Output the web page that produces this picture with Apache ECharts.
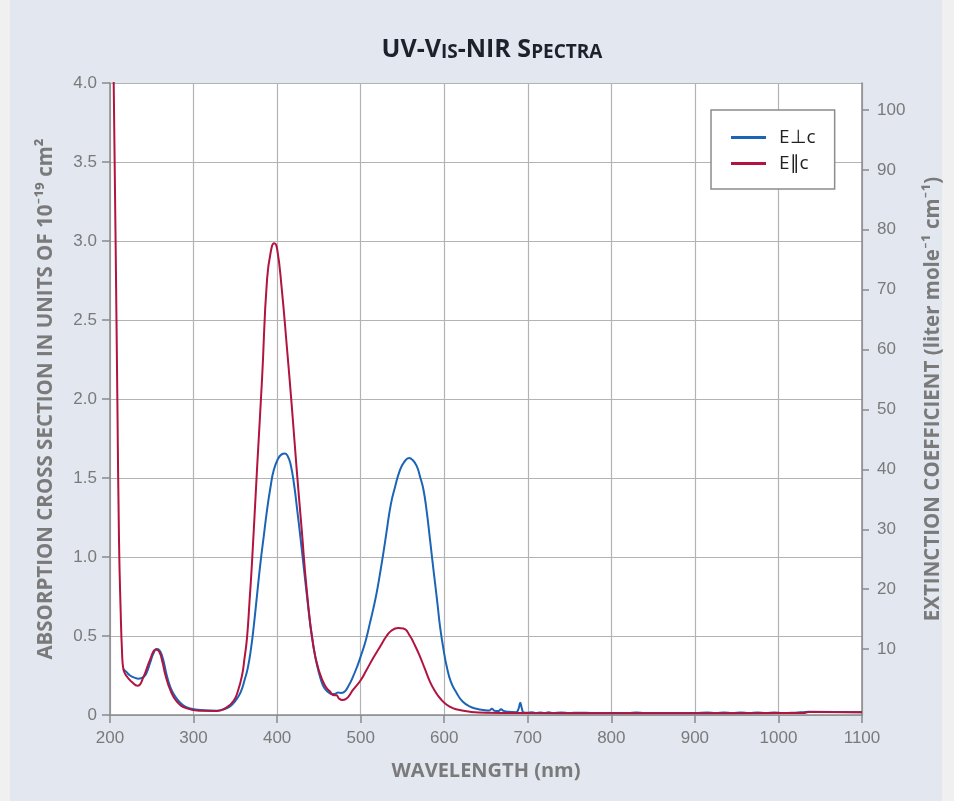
<!DOCTYPE html>
<html>
<head>
<meta charset="utf-8">
<script src="https://cdn.jsdelivr.net/npm/echarts@6/dist/echarts.min.js"></script>
<style>
  html, body { margin: 0; padding: 0; background: #f0f0f0; }
  #panel { position: absolute; left: 10px; top: 0; width: 932px; height: 801px; background: #e2e7f0; }
  #chart { position: absolute; left: 0; top: 0; width: 954px; height: 801px; }
</style>
</head>
<body>
<div id="panel"></div>
<div id="chart"></div>
<script>
// ---- Data ----
const xTicks = [200, 300, 400, 500, 600, 700, 800, 900, 1000, 1100];
const leftTicks = [0, 0.5, 1.0, 1.5, 2.0, 2.5, 3.0, 3.5, 4.0];
const rightTicks = [10, 20, 30, 40, 50, 60, 70, 80, 90, 100];
const seriesNames = ['E\u22A5c', 'E\u2225c'];

// E⊥c (blue)
const perpNm = [216, 220, 224, 230, 234, 240, 244, 248, 252, 256, 259, 262, 265, 268, 272, 276, 282, 288, 296, 308, 328, 338, 344, 350, 356, 361, 365, 369, 372, 376, 380, 384, 388, 392, 396, 401, 405, 409.5, 413, 416, 420, 424, 428, 432, 436, 440, 444, 448, 452, 456, 461, 466, 470, 473, 476, 480, 486, 491, 496, 500, 506, 511, 515, 519, 523, 527, 531, 536, 541, 547, 552, 558, 562, 567, 571, 575, 579, 583, 586, 589, 592, 595, 599, 603, 608, 615, 622, 631, 640, 647, 654, 657, 660, 665, 668, 671, 676, 686, 689, 691, 693, 695, 700, 705, 710, 715, 720, 725, 730, 740, 750, 760, 780, 800, 820, 830, 840, 860, 900, 915, 925, 935, 945, 955, 965, 975, 985, 995, 1005, 1020, 1030, 1036, 1100];
const perpVal = [0.29, 0.27, 0.25, 0.235, 0.23, 0.24, 0.27, 0.33, 0.39, 0.417, 0.41, 0.38, 0.32, 0.25, 0.18, 0.135, 0.09, 0.06, 0.042, 0.031, 0.027, 0.04, 0.055, 0.09, 0.14, 0.22, 0.3, 0.43, 0.56, 0.76, 0.96, 1.13, 1.3, 1.44, 1.55, 1.62, 1.648, 1.655, 1.635, 1.59, 1.47, 1.3, 1.12, 0.93, 0.74, 0.56, 0.42, 0.31, 0.23, 0.175, 0.145, 0.132, 0.135, 0.143, 0.14, 0.145, 0.19, 0.245, 0.31, 0.37, 0.47, 0.58, 0.67, 0.77, 0.89, 1.02, 1.16, 1.33, 1.44, 1.55, 1.6, 1.627, 1.615, 1.577, 1.51, 1.43, 1.29, 1.11, 0.97, 0.836, 0.7, 0.56, 0.42, 0.307, 0.21, 0.138, 0.085, 0.053, 0.038, 0.032, 0.028, 0.04, 0.027, 0.025, 0.036, 0.026, 0.02, 0.018, 0.04, 0.077, 0.04, 0.016, 0.014, 0.018, 0.012, 0.016, 0.013, 0.017, 0.012, 0.016, 0.012, 0.015, 0.012, 0.012, 0.012, 0.016, 0.013, 0.012, 0.012, 0.016, 0.013, 0.016, 0.013, 0.016, 0.013, 0.016, 0.013, 0.016, 0.013, 0.015, 0.018, 0.02, 0.018];

// E∥c (red)
const parNm = [204.2, 206.7, 208.8, 210.8, 212.8, 214.4, 216, 220, 226, 233, 240, 248, 255, 259, 263, 266, 272, 280, 292, 308, 328, 340, 348, 353, 358, 361, 364, 367, 370, 376, 382, 388, 393.5, 396.5, 400, 405.5, 411.5, 417.5, 423.5, 429.5, 435.5, 443.5, 451, 458, 463, 468, 471, 474, 478, 482, 491, 500, 507, 515, 523, 531, 537, 545, 551, 559, 565, 571, 577, 583, 589, 595, 603, 611, 620, 631, 650, 700, 800, 900, 1000, 1030, 1036, 1100];
const parVal = [4.1, 3.0, 2.0, 1.1, 0.65, 0.4, 0.29, 0.245, 0.21, 0.185, 0.24, 0.35, 0.415, 0.4, 0.33, 0.26, 0.16, 0.085, 0.042, 0.027, 0.026, 0.05, 0.09, 0.15, 0.25, 0.36, 0.49, 0.72, 0.97, 1.56, 2.13, 2.76, 2.96, 2.985, 2.95, 2.7, 2.34, 1.96, 1.55, 1.17, 0.79, 0.43, 0.265, 0.18, 0.15, 0.125, 0.125, 0.105, 0.095, 0.1, 0.16, 0.22, 0.285, 0.36, 0.43, 0.5, 0.535, 0.55, 0.548, 0.5, 0.44, 0.37, 0.29, 0.21, 0.15, 0.106, 0.065, 0.042, 0.03, 0.02, 0.014, 0.012, 0.011, 0.011, 0.012, 0.013, 0.019, 0.018];

const zip = (xs, ys) => xs.map((x, i) => [x, ys[i]]);

const chart = echarts.init(document.getElementById('chart'), null, { renderer: 'canvas' });
const gray = '#7a7a7a';
const labelFont = '"Liberation Sans", Arial, sans-serif';
const nameFont = '"Open Sans", Lato, sans-serif';

chart.setOption({
  animation: false,
  backgroundColor: 'transparent',
  title: {
    text: '{a|UV-V}{b|IS}{a|-NIR S}{b|PECTRA}',
    left: 487,
    textAlign: 'center',
    top: 32,
    textStyle: {
      rich: {
        a: { fontFamily: nameFont, fontWeight: 'bold', fontSize: 25, color: '#1b222c', lineHeight: 25, verticalAlign: 'bottom' },
        b: { fontFamily: nameFont, fontWeight: 'bold', fontSize: 19, color: '#1b222c', lineHeight: 19, verticalAlign: 'bottom' }
      }
    }
  },
  legend: {
    orient: 'vertical',
    left: 711,
    top: 110,
    padding: [18, 19, 16, 20],
    itemGap: 7,
    itemWidth: 35,
    itemHeight: 3,
    icon: 'rect',
    backgroundColor: '#ffffff',
    borderColor: '#8c8c8c',
    borderWidth: 1.5,
    borderRadius: 0,
    textStyle: { fontFamily: nameFont, fontSize: 19, color: '#222', padding: [0, 0, 0, 8] },
    data: seriesNames
  },
  grid: {
    left: 110, right: 92, top: 83, bottom: 86,
    show: true, backgroundColor: '#ffffff', borderWidth: 0
  },
  xAxis: {
    type: 'value',
    min: xTicks[0], max: xTicks[xTicks.length - 1], interval: 100,
    name: 'WAVELENGTH (nm)',
    nameLocation: 'middle',
    nameGap: 46,
    nameTextStyle: { fontFamily: nameFont, fontWeight: 'bold', fontSize: 20, color: gray },
    axisLine: { show: true, lineStyle: { color: '#8a8a8a', width: 1.5 } },
    axisTick: { show: true, inside: false, length: 8, lineStyle: { color: '#8a8a8a', width: 1.5 } },
    axisLabel: { fontFamily: labelFont, fontSize: 17, color: gray, margin: 15, formatter: v => String(v) },
    splitLine: { show: true, lineStyle: { color: '#b3b3b3', width: 1.2 } }
  },
  yAxis: [
    {
      type: 'value',
      min: leftTicks[0], max: leftTicks[leftTicks.length - 1], interval: 0.5,
      position: 'left',
      name: 'ABSORPTION CROSS SECTION IN UNITS OF 10\u207B\u00B9\u2079 cm\u00B2',
      nameLocation: 'middle',
      nameRotate: 90,
      nameGap: 53,
      nameTextStyle: { fontFamily: nameFont, fontWeight: 'bold', fontSize: 20.5, color: gray },
      axisLine: { show: true, lineStyle: { color: '#8a8a8a', width: 1.5 } },
      axisTick: { show: true, inside: false, length: 8, lineStyle: { color: '#8a8a8a', width: 1.5 } },
      axisLabel: {
        fontFamily: labelFont, fontSize: 17, color: gray, margin: 13,
        formatter: v => (v === 0 ? '0' : v.toFixed(1))
      },
      splitLine: { show: true, lineStyle: { color: '#b3b3b3', width: 1.2 } }
    },
    {
      type: 'value',
      min: -1.0, max: 104.5,
      position: 'right',
      name: 'EXTINCTION COEFFICIENT (liter mole\u207B\u00B9 cm\u207B\u00B9)',
      nameLocation: 'middle',
      nameRotate: 90,
      nameGap: 61,
      nameTextStyle: { fontFamily: nameFont, fontWeight: 'bold', fontSize: 20.5, color: gray },
      axisLine: { show: true, lineStyle: { color: '#8a8a8a', width: 1.5 } },
      axisTick: { show: true, inside: false, length: 7, customValues: rightTicks, lineStyle: { color: '#8a8a8a', width: 1.5 } },
      axisLabel: { fontFamily: labelFont, fontSize: 17, color: gray, margin: 15, customValues: rightTicks },
      splitLine: { show: false }
    }
  ],
  series: [
    {
      name: seriesNames[0], type: 'line', yAxisIndex: 0,
      data: zip(perpNm, perpVal),
      showSymbol: false, smooth: 0.5,
      lineStyle: { color: '#1b64b6', width: 2 },
      itemStyle: { color: '#1b64b6' }
    },
    {
      name: seriesNames[1], type: 'line', yAxisIndex: 0,
      data: zip(parNm, parVal),
      showSymbol: false, smooth: 0.5,
      lineStyle: { color: '#b0143f', width: 2 },
      itemStyle: { color: '#b0143f' }
    }
  ]
});
</script>
</body>
</html>
